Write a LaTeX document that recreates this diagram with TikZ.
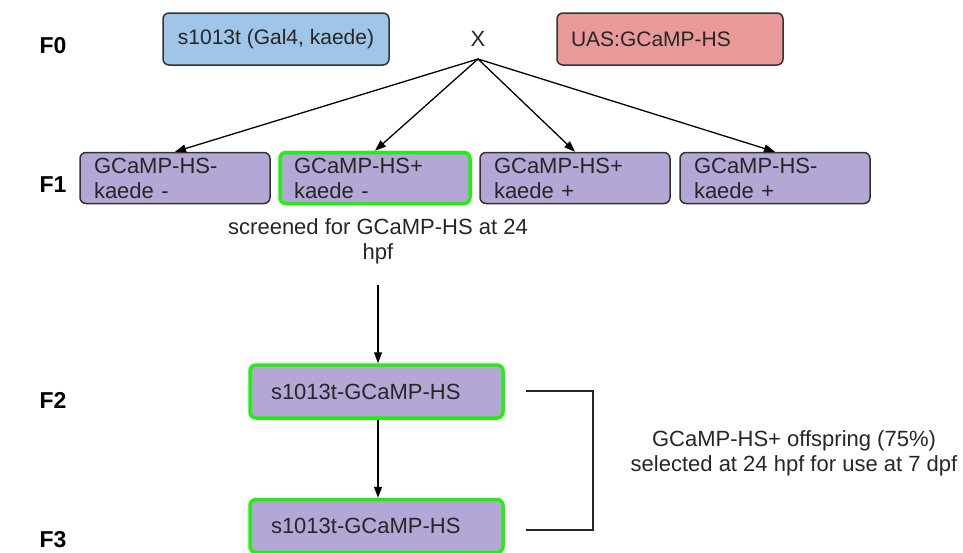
\documentclass[tikz,border=0pt]{standalone}
\usepackage{fontspec}
\setmainfont{Liberation Sans}
\usetikzlibrary{arrows.meta,calc}
\definecolor{edgegray}{HTML}{333333}
\definecolor{parentblue}{HTML}{9FC5E8}
\definecolor{parentred}{HTML}{EA9999}
\definecolor{offviolet}{HTML}{B4A7D6}
\definecolor{selgreen}{HTML}{22EE11}
\begin{document}
\begin{tikzpicture}[x=1pt,y=-1pt,
  every node/.style={font=\fontsize{22}{25}\selectfont, text=black!85},
  genlabel/.style={font=\fontsize{23}{25}\selectfont\bfseries, text=black},
  fishbox/.style={draw=edgegray, line width=1.5pt, rounded corners=6pt,
    align=left, inner xsep=14pt, inner ysep=0pt},
  parent/.style={draw=edgegray, line width=1.5pt, rounded corners=6pt,
    font=\fontsize{21}{24}\selectfont, minimum width=226pt, minimum height=52pt},
  cross/.style={fishbox, fill=offviolet, minimum width=190pt, text width=162pt, minimum height=51pt},
  line/.style={draw=edgegray, line width=1.5pt, rounded corners=6pt, minimum width=253pt, text width=211pt, minimum height=53pt, align=left, inner xsep=21pt, inner ysep=0pt},
  chosen/.style={draw=selgreen, line width=3.5pt},
  arr/.style={-{Triangle[length=11pt,width=8pt]}, line width=1.3pt, black},
  bracket/.style={line width=1.3pt, black!85}
]
\useasboundingbox (0,0) rectangle (963,552);

% generation labels
\node[genlabel] (g0) at (53,46) {F0};
\node[genlabel] (g1) at (53,185) {F1};
\node[genlabel] (g2) at (53,400) {F2};
\node[genlabel] (g3) at (53,540) {F3};

% parents
\node[parent, fill=parentblue] (p1) at (276,39) {s1013t (Gal4, kaede)};
\node (x) at (478,39) {X};
\node[parent, fill=parentred, text width=198pt, align=left, inner xsep=14pt] (p2) at (670,39) {UAS:GCaMP-HS};
\coordinate (xpt) at (478,59);

% F1 offspring
\node[cross] (c1) at (175,178) {GCaMP-HS-\\kaede -};
\node[cross, chosen] (c2) at (375,178) {GCaMP-HS+\\kaede -};
\node[cross] (c3) at (575,178) {GCaMP-HS+\\kaede +};
\node[cross] (c4) at (775,178) {GCaMP-HS-\\kaede +};

\draw[arr] (xpt) -- (c1.north);
\draw[arr] (xpt) -- (c2.north);
\draw[arr] (xpt) -- (c3.north);
\draw[arr] (xpt) -- (c4.north);

\node[align=center] (screen) at (378,241) {screened for GCaMP-HS at 24\\hpf};

% F2 and F3 lines
\node[line, fill=offviolet, chosen] (f2) at (376.5,391.5) {s1013t-GCaMP-HS};
\node[line, fill=offviolet, chosen] (f3) at (376.5,526) {s1013t-GCaMP-HS};

\coordinate (scrbot) at (378,285);
\draw[arr] (scrbot) -- (f2.north -| scrbot);
\draw[arr] (f2.south -| scrbot) -- (f3.north -| scrbot);

% bracket grouping F2 and F3
\coordinate (b1) at (526,391);
\coordinate (b2) at (526,530);
\draw[bracket] (b1) -- (593,391) -- (593,530) -- (b2);

\node[align=center] (note) at (794,453) {GCaMP-HS+ offspring (75\%)\\selected at 24 hpf for use at 7 dpf};
\end{tikzpicture}
\end{document}
